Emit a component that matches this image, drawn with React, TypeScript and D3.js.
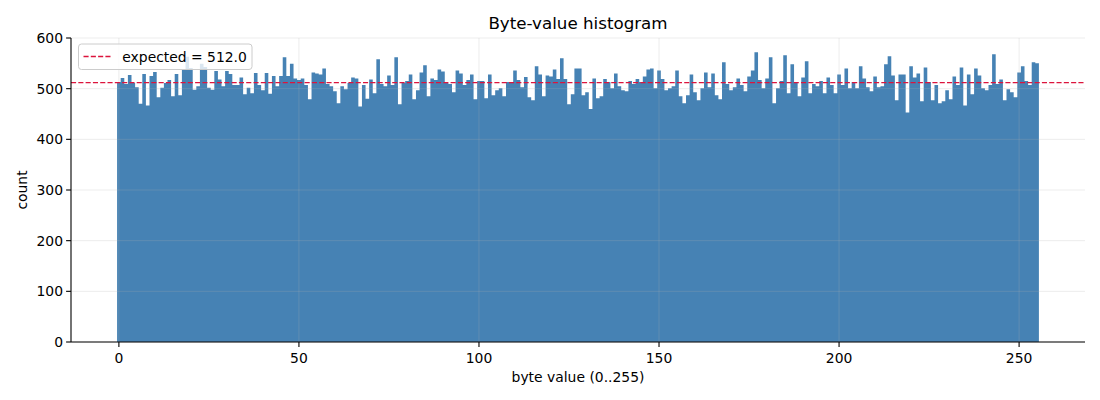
import React from "react";
import * as d3 from "d3";

const counts: number[] = [
  513, 521, 509, 527, 511, 503, 470, 529, 467, 525, 533, 483, 502, 511, 517, 485,
  529, 487, 537, 563, 541, 498, 505, 549, 543, 502, 498, 535, 518, 505, 535, 529,
  507, 507, 522, 489, 502, 491, 531, 507, 497, 531, 490, 525, 505, 525, 562, 525,
  549, 520, 517, 520, 507, 479, 532, 530, 528, 540, 509, 505, 495, 471, 505, 499,
  511, 522, 520, 465, 507, 480, 518, 491, 558, 509, 505, 526, 507, 562, 469, 511,
  515, 528, 479, 497, 532, 546, 485, 520, 517, 538, 534, 511, 509, 493, 536, 530,
  507, 517, 528, 479, 515, 515, 481, 528, 487, 497, 501, 485, 513, 511, 536, 517,
  503, 523, 483, 477, 544, 528, 485, 526, 524, 538, 519, 560, 519, 469, 489, 540,
  540, 487, 493, 460, 520, 481, 485, 519, 513, 501, 530, 505, 497, 495, 515, 509,
  519, 513, 524, 538, 540, 501, 536, 519, 497, 501, 505, 536, 485, 471, 487, 528,
  493, 477, 501, 532, 503, 530, 487, 479, 552, 509, 497, 503, 520, 507, 495, 524,
  536, 572, 517, 501, 520, 562, 471, 501, 515, 566, 491, 548, 513, 485, 522, 554,
  491, 509, 505, 515, 491, 522, 507, 491, 528, 507, 540, 501, 513, 501, 544, 520,
  503, 495, 524, 503, 505, 548, 564, 526, 477, 528, 528, 453, 544, 522, 530, 475,
  542, 513, 477, 507, 471, 475, 497, 479, 524, 507, 542, 467, 528, 489, 540, 526,
  501, 497, 507, 568, 509, 518, 477, 499, 493, 483, 532, 544, 515, 507, 552, 550,
];

const expected = 512.0;
const xTicks: number[] = [0, 50, 100, 150, 200, 250];
const yTicks: number[] = [0, 100, 200, 300, 400, 500, 600];

const W = 1100;
const H = 400;
const left = 71;
const right = 1085;
const top = 38;
const bottom = 342;
const FONT = "DejaVu Sans, sans-serif";

export default function App() {
  const x = d3.scaleLinear().domain([-13.3, 268.3]).range([left, right]);
  const y = d3.scaleLinear().domain([0, 600]).range([bottom, top]);
  // bin edges: each bin i spans [i - 0.5, i + 0.5]
  const steps = counts.map((c, i) => ({ e: i - 0.5, c }));
  steps.push({ e: counts.length - 0.5, c: counts[counts.length - 1] });
  const area = d3
    .area<{ e: number; c: number }>()
    .x((d) => x(d.e))
    .y0(y(0))
    .y1((d) => y(d.c))
    .curve(d3.curveStepAfter);

  return (
    <svg
      width={W}
      height={H}
      style={{ position: "absolute", left: 0, top: 0, background: "#fff" }}
      fontFamily={FONT}
    >
      <rect x={0} y={0} width={W} height={H} fill="#fff" />
      <path d={area(steps) || ""} fill="#4682b4" />
      {/* grid */}
      {xTicks.map((t) => (
        <line key={"gx" + t} x1={x(t)} x2={x(t)} y1={top} y2={bottom} stroke="#b0b0b0" strokeOpacity={0.3} strokeWidth={0.8} />
      ))}
      {yTicks.map((t) => (
        <line key={"gy" + t} x1={left} x2={right} y1={y(t)} y2={y(t)} stroke="#b0b0b0" strokeOpacity={0.3} strokeWidth={0.8} />
      ))}
      {/* expected line */}
      <line x1={left} x2={right} y1={y(expected)} y2={y(expected)} stroke="#dc143c" strokeWidth={1.3} strokeDasharray="5.1,2.2" />
      {/* spines */}
      <line x1={left} x2={left} y1={top} y2={bottom} stroke="#000" strokeWidth={1.1} />
      <line x1={left} x2={right} y1={bottom} y2={bottom} stroke="#000" strokeWidth={1.1} />
      {/* x ticks */}
      {xTicks.map((t) => (
        <g key={"xt" + t}>
          <line x1={x(t)} x2={x(t)} y1={bottom} y2={bottom + 4.9} stroke="#000" strokeWidth={1.1} />
          <text x={x(t)} y={bottom + 21} textAnchor="middle" fontSize={13.9} fill="#000">{t}</text>
        </g>
      ))}
      {/* y ticks */}
      {yTicks.map((t) => (
        <g key={"yt" + t}>
          <line x1={left - 4.9} x2={left} y1={y(t)} y2={y(t)} stroke="#000" strokeWidth={1.1} />
          <text x={left - 8} y={y(t) + 5} textAnchor="end" fontSize={13.9} fill="#000">{t}</text>
        </g>
      ))}
      {/* labels */}
      <text x={(left + right) / 2} y={29} textAnchor="middle" fontSize={16.7} fill="#000">Byte-value histogram</text>
      <text x={(left + right) / 2} y={382} textAnchor="middle" fontSize={13.9} fill="#000">byte value (0..255)</text>
      <text transform={`translate(27,${(top + bottom) / 2}) rotate(-90)`} textAnchor="middle" fontSize={13.9} fill="#000">count</text>
      {/* legend */}
      <rect x={78.5} y={44} width={173.5} height={25.5} rx={3} fill="#fff" fillOpacity={0.8} stroke="#cccccc" strokeWidth={1} />
      <line x1={83.5} x2={111.3} y1={56.5} y2={56.5} stroke="#dc143c" strokeWidth={1.3} strokeDasharray="5.1,2.2" />
      <text x={122.3} y={61.5} fontSize={13.9} fill="#000">expected = 512.0</text>
    </svg>
  );
}
